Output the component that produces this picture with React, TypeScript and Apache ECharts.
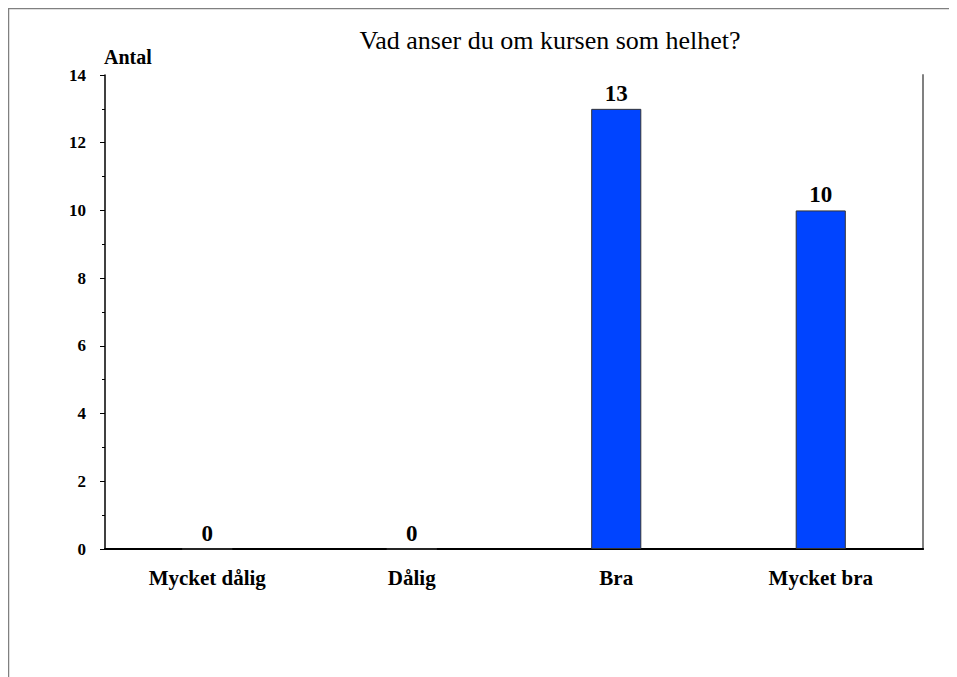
import React, { useEffect, useRef } from "react";
import * as echarts from "echarts";

const categories = ["Mycket dålig", "Dålig", "Bra", "Mycket bra"];
const values = [0, 0, 13, 10];
const titleText = "Vad anser du om kursen som helhet?";
const yAxisName = "Antal";
const yMin = 0;
const yMax = 14;
const yInterval = 2;

export default function App() {
  const ref = useRef<HTMLDivElement>(null);
  useEffect(() => {
    if (!ref.current) return;
    const chart = echarts.init(ref.current, null, { renderer: "svg" });
    const serif = "'Liberation Serif', 'Times New Roman', serif";
    chart.setOption({
      animation: false,
      backgroundColor: "#ffffff",
      textStyle: { fontFamily: serif },
      title: {
        text: titleText,
        left: 542,
        top: 19,
        padding: 0,
        textAlign: "center",
        textStyle: { fontFamily: serif, fontSize: 26, fontWeight: "normal", color: "#000" },
      },
      graphic: [
        {
          type: "polyline",
          shape: { points: [[0.5, 700], [0.5, 0.5], [1000, 0.5]] },
          style: { stroke: "#808080", lineWidth: 1.5, fill: "none" },
          silent: true,
        },
      ],
      grid: { left: 97, top: 67, right: 34, bottom: 128, containLabel: false },
      xAxis: [
        {
          type: "category",
          data: categories,
          position: "bottom",
          axisLine: { show: true, lineStyle: { color: "#000", width: 2 } },
          axisTick: { show: false },
          axisLabel: {
            interval: 0,
            margin: 18,
            color: "#000",
            fontFamily: serif,
            fontSize: 21,
            fontWeight: "bold",
          },
          splitLine: { show: false },
        },
        {
          type: "category",
          data: categories,
          position: "top",
          axisLine: { show: true, lineStyle: { color: "#000", width: 1.5 } },
          axisTick: { show: false },
          axisLabel: { show: false },
        },
      ],
      yAxis: [
        {
          type: "value",
          min: yMin,
          max: yMax,
          interval: yInterval,
          name: yAxisName,
          nameLocation: "end",
          nameGap: 8,
          nameTextStyle: {
            align: "left",
            padding: [0, 0, 0, -1],
            color: "#000",
            fontFamily: serif,
            fontSize: 20,
            fontWeight: "bold",
          },
          axisLine: { show: true, lineStyle: { color: "#000", width: 1.5 } },
          axisTick: { show: true, length: 5, lineStyle: { color: "#000" } },
          minorTick: { show: true, splitNumber: 2, length: 3, lineStyle: { color: "#000" } },
          axisLabel: {
            margin: 19,
            color: "#000",
            fontFamily: serif,
            fontSize: 17,
            fontWeight: "bold",
          },
          splitLine: { show: false },
        },
        {
          type: "value",
          min: yMin,
          max: yMax,
          interval: yInterval,
          position: "right",
          axisLine: { show: true, lineStyle: { color: "#808080", width: 2 } },
          axisTick: { show: false },
          axisLabel: { show: false },
          splitLine: { show: false },
        },
      ],
      series: [
        {
          type: "bar",
          data: values,
          xAxisIndex: 0,
          yAxisIndex: 0,
          barWidth: "24.5%",
          itemStyle: { color: "#0044ff", borderColor: "#333", borderWidth: 1 },
          label: {
            show: true,
            position: "top",
            distance: 4,
            color: "#000",
            fontFamily: serif,
            fontSize: 23,
            fontWeight: "bold",
          },
        },
      ],
    });
    return () => chart.dispose();
  }, []);
  return <div ref={ref} style={{ width: 949, height: 669 }} />;
}
